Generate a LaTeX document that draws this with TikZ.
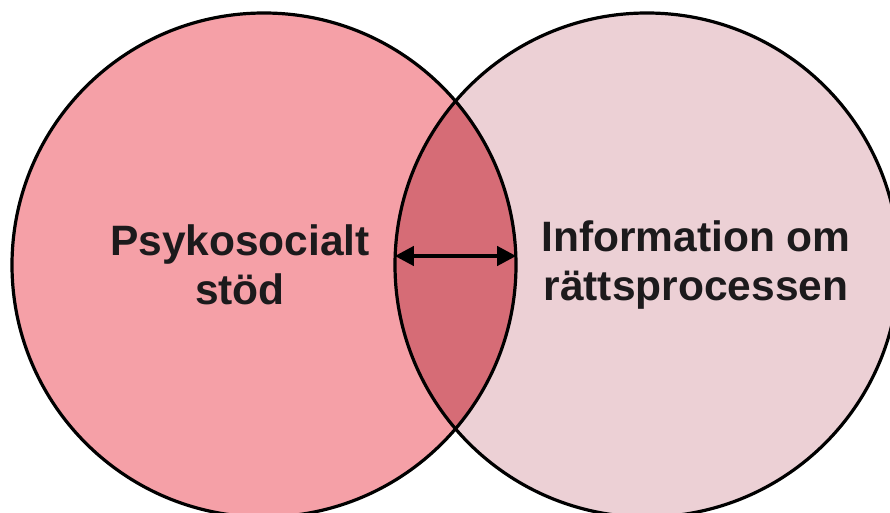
\documentclass[tikz,border=0pt]{standalone}
\usepackage{fontspec}
\setmainfont{Liberation Sans}
\usetikzlibrary{arrows.meta}
\definecolor{leftfill}{RGB}{245,160,167}
\definecolor{rightfill}{RGB}{236,208,213}
\definecolor{midfill}{RGB}{214,108,118}
\definecolor{txt}{RGB}{28,26,28}
\tikzset{
  venn/.style={circle, minimum size=504pt, inner sep=0pt},
  outline/.style={draw=black, line width=3.2pt},
  lbl/.style={align=center, text=txt, font=\fontsize{42.5}{49}\selectfont\bfseries}
}
\begin{document}
\begin{tikzpicture}[x=1pt,y=-1pt]
\useasboundingbox (0,0) rectangle (890,513);
\clip (0,0) rectangle (890,513);
\node[venn, fill=leftfill] (L) at (264,265) {};
\node[venn, fill=rightfill] (R) at (647,265) {};
\begin{scope}
  \clip (264,265) circle (252);
  \fill[midfill] (647,265) circle (252);
\end{scope}
\draw[outline] (264,265) circle (252);
\draw[outline] (647,265) circle (252);
\node[lbl] (t1) at (240,265) {Psykosocialt\\stöd};
\node[lbl] (t2) at (696,265) {Information om\\rättsprocessen};
\draw[line width=4pt, {Triangle[length=19pt,width=19pt]}-{Triangle[length=19pt,width=19pt]}]
  ([yshift=9pt]R.west) -- ([yshift=9pt]L.east);
\end{tikzpicture}
\end{document}
